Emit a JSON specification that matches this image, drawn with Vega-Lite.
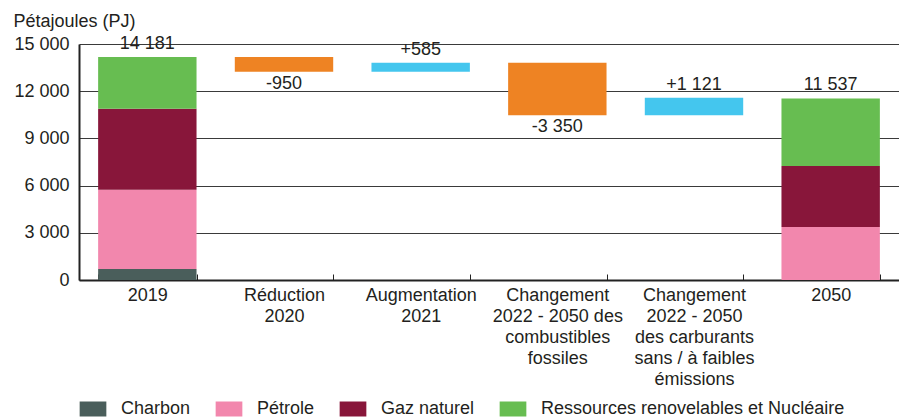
{
  "$schema": "https://vega.github.io/schema/vega-lite/v6.json",
  "width": 820,
  "height": 236,
  "autosize": "none",
  "padding": {"left": 79, "top": 44, "right": 0, "bottom": 137},
  "config": {
    "font": "Liberation Sans",
    "view": {"stroke": null},
    "axisY": {
      "domainColor": "#222222",
      "domainWidth": 2,
      "ticks": false,
      "gridColor": "#3a3a3a",
      "gridWidth": 1,
      "labelFontSize": 18,
      "labelColor": "#231f20",
      "labelPadding": 10
    },
    "axisX": {
      "domainColor": "#222222",
      "domainWidth": 2,
      "ticks": true,
      "tickColor": "#222222",
      "tickWidth": 1,
      "labelFontSize": 18,
      "labelColor": "#231f20"
    }
  },
  "datasets": {
    "stack": [
      {"cat": "2019", "source": "Charbon", "rank": 1, "value": 700},
      {"cat": "2019", "source": "Pétrole", "rank": 2, "value": 5040},
      {"cat": "2019", "source": "Gaz naturel", "rank": 3, "value": 5150},
      {"cat": "2019", "source": "Ressources renovelables et Nucléaire", "rank": 4, "value": 3291},
      {"cat": "2050", "source": "Pétrole", "rank": 2, "value": 3370},
      {"cat": "2050", "source": "Gaz naturel", "rank": 3, "value": 3880},
      {"cat": "2050", "source": "Ressources renovelables et Nucléaire", "rank": 4, "value": 4287}
    ],
    "steps": [
      {"cat": "Réduction\n2020", "source": "Baisse", "start": 14181, "end": 13231, "label": "-950"},
      {"cat": "Augmentation\n2021", "source": "Hausse", "start": 13231, "end": 13816, "label": "+585"},
      {"cat": "Changement\n2022 - 2050 des\ncombustibles\nfossiles", "source": "Baisse", "start": 13816, "end": 10466, "label": "-3 350"},
      {"cat": "Changement\n2022 - 2050\ndes carburants\nsans / à faibles\némissions", "source": "Hausse", "start": 10466, "end": 11587, "label": "+1 121"}
    ],
    "totals": [
      {"cat": "2019", "total": 14181, "label": "14 181"},
      {"cat": "2050", "total": 11537, "label": "11 537"}
    ]
  },
  "encoding": {
    "x": {
      "field": "cat",
      "type": "nominal",
      "sort": ["2019", "Réduction\n2020", "Augmentation\n2021", "Changement\n2022 - 2050 des\ncombustibles\nfossiles", "Changement\n2022 - 2050\ndes carburants\nsans / à faibles\némissions", "2050"],
      "scale": {"paddingInner": 0.28, "paddingOuter": 0.14},
      "axis": {
        "title": null,
        "labelAngle": 0,
        "labelExpr": "split(datum.label, '\\n')",
        "labelLineHeight": 21,
        "labelBaseline": "top",
        "labelPadding": 12,
        "tickBand": "extent",
        "tickSize": -6
      }
    }
  },
  "layer": [
    {
      "data": {"name": "stack"},
      "mark": {"type": "bar"},
      "encoding": {
        "y": {
          "field": "value",
          "type": "quantitative",
          "stack": "zero",
          "scale": {"domain": [0, 15000], "nice": false},
          "axis": {
            "values": [0, 3000, 6000, 9000, 12000, 15000],
            "labelExpr": "replace(format(datum.value, ','), ',', ' ')",
            "title": "Pétajoules (PJ)",
            "titleAngle": 0,
            "titleX": -66,
            "titleY": -18,
            "titleAlign": "left",
            "titleBaseline": "alphabetic",
            "titleFontSize": 18,
            "titleFontWeight": "normal",
            "titleColor": "#231f20"
          }
        },
        "color": {
          "field": "source",
          "type": "nominal",
          "sort": ["Charbon", "Pétrole", "Gaz naturel", "Ressources renovelables et Nucléaire", "Baisse", "Hausse"],
          "scale": {
            "domain": ["Charbon", "Pétrole", "Gaz naturel", "Ressources renovelables et Nucléaire", "Baisse", "Hausse"],
            "range": ["#4a5e5b", "#f287ad", "#88163a", "#67bd51", "#ee8323", "#44c6ee"]
          },
          "legend": {
            "title": null,
            "orient": "none",
            "direction": "horizontal",
            "legendX": 5,
            "legendY": 356,
            "padding": 0,
            "values": ["Charbon", "Pétrole", "Gaz naturel", "Ressources renovelables et Nucléaire"],
            "symbolType": "M-1.78,-1H1.78V1H-1.78Z",
            "symbolSize": 225,
            "symbolStrokeWidth": 0,
            "symbolOpacity": 1,
            "labelFontSize": 18,
            "labelColor": "#231f20",
            "labelOffset": 19,
            "columnPadding": 24,
            "labelLimit": 400
          }
        },
        "order": {"field": "rank", "type": "quantitative", "sort": "ascending"}
      }
    },
    {
      "data": {"name": "steps"},
      "mark": {"type": "bar"},
      "encoding": {
        "y": {"field": "start", "type": "quantitative"},
        "y2": {"field": "end"},
        "color": {"field": "source", "type": "nominal"}
      }
    },
    {
      "data": {"name": "steps"},
      "transform": [{"filter": "datum.source === 'Hausse'"}],
      "mark": {"type": "text", "baseline": "alphabetic", "dy": -8, "fontSize": 18, "color": "#231f20"},
      "encoding": {
        "y": {"field": "end", "type": "quantitative"},
        "text": {"field": "label"}
      }
    },
    {
      "data": {"name": "steps"},
      "transform": [{"filter": "datum.source === 'Baisse'"}],
      "mark": {"type": "text", "baseline": "top", "dy": 3, "fontSize": 18, "color": "#231f20"},
      "encoding": {
        "y": {"field": "end", "type": "quantitative"},
        "text": {"field": "label"}
      }
    },
    {
      "data": {"name": "totals"},
      "mark": {"type": "text", "baseline": "alphabetic", "dy": -8, "fontSize": 18, "color": "#231f20"},
      "encoding": {
        "y": {"field": "total", "type": "quantitative"},
        "text": {"field": "label"}
      }
    }
  ]
}
